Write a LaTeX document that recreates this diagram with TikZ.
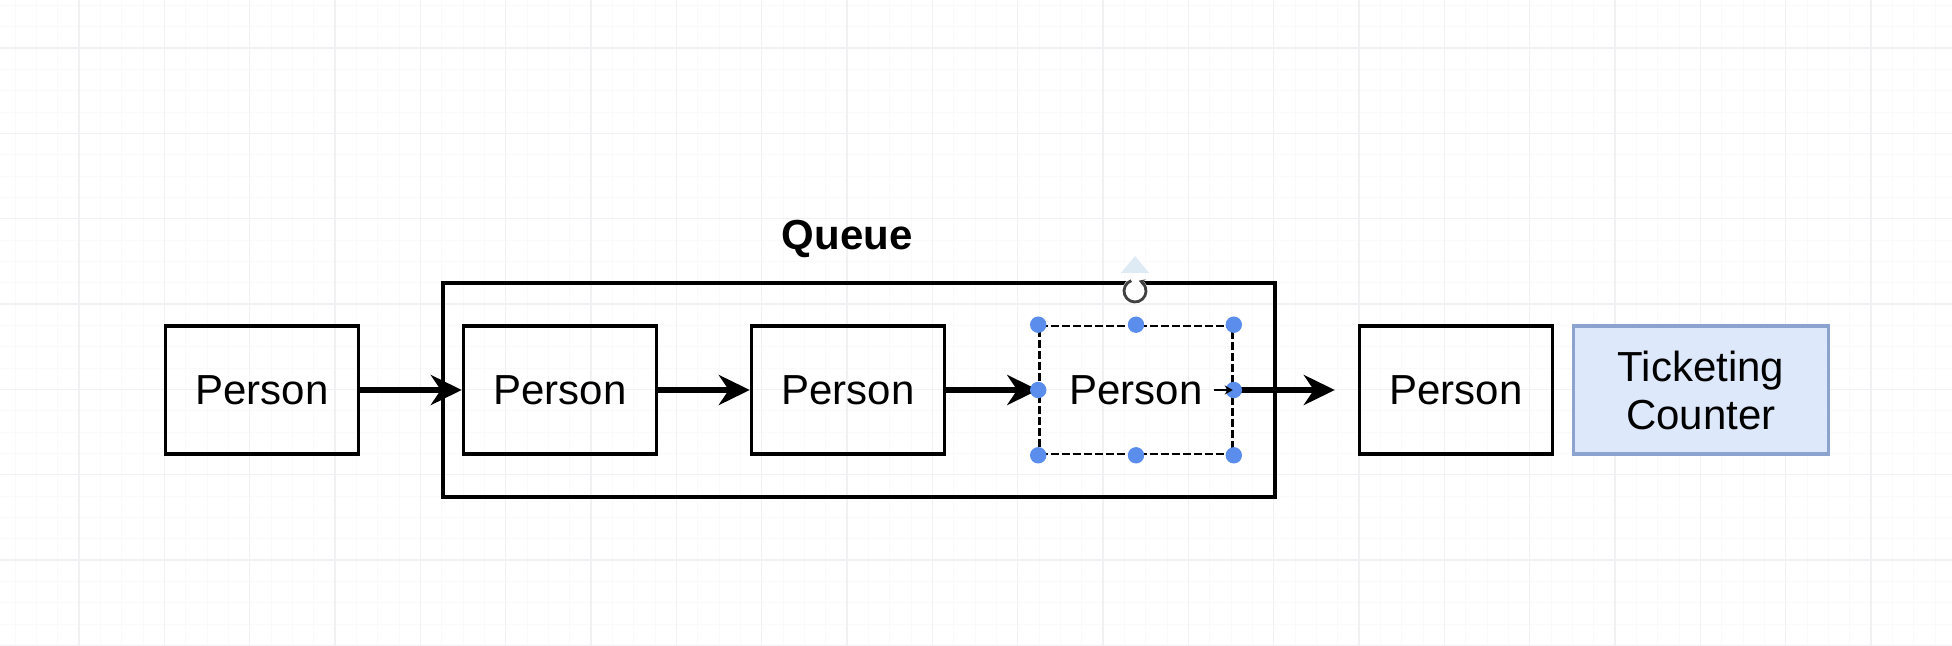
\documentclass[tikz,border=0pt]{standalone}
\usepackage{fontspec}
\setmainfont{Liberation Sans}
\usepackage{tikz}
\usetikzlibrary{arrows.meta, positioning}
\definecolor{gridmajor}{RGB}{241,241,243}
\definecolor{gridminor}{RGB}{250,250,251}
\definecolor{counterfill}{RGB}{222,232,251}
\definecolor{counterline}{RGB}{140,163,207}
\definecolor{handle}{RGB}{90,141,236}
\definecolor{hint}{RGB}{222,234,244}

\begin{document}
\begin{tikzpicture}[
        x=0.5pt, y=-0.5pt,
        node distance=144pt,
        person/.style={rectangle, draw, line width=1.7pt, minimum width=96.5pt, minimum height=64pt, inner sep=0pt, align=center, font=\fontsize{21}{24}\selectfont},
        queuebox/.style={rectangle, draw, line width=1.7pt, minimum width=416pt, minimum height=107pt, inner sep=0pt},
        selected/.style={person, dash pattern=on 4pt off 1.5pt, line width=1.3pt},
        counter/.style={person, minimum width=127.5pt, fill=counterfill, draw=counterline},
        flow/.style={-{Stealth[length=15.5pt, width=15pt, inset=5pt]}, line width=2.6pt}
    ]
        \useasboundingbox (0,0) rectangle (1952,646);
        \fill[white] (0,0) rectangle (1952,646);

        % Background grid
        \begin{scope}
            \clip (0,0) rectangle (1952,646);
            \foreach \i in {0,...,93} {
                \draw[gridminor, line width=0.4pt] ({-6.33+21.333*\i},0) -- ++(0,646);
            }
            \foreach \i in {0,...,32} {
                \draw[gridminor, line width=0.4pt] (0,{-37.33+21.333*\i}) -- ++(1952,0);
            }
            \foreach \i in {0,...,23} {
                \draw[gridmajor, line width=0.6pt] ({-6.33+85.333*\i},0) -- ++(0,646);
            }
            \foreach \i in {0,...,8} {
                \draw[gridmajor, line width=0.6pt] (0,{-37.33+85.333*\i}) -- ++(1952,0);
            }
        \end{scope}

        % Queue container
        \node (queue) [queuebox] at (859,390) {};
        \node (qlabel) [font=\fontsize{21}{24}\selectfont\bfseries] at (847,239) {Queue};

        % People in line
        \node (p1) [person] at (262,390) {Person};
        \node (p2) [person, right of=p1, xshift=5pt] {Person};
        \node (p3) [person, right of=p2] {Person};
        \node (p4) [selected, right of=p3] {Person};
        \node (p5) [person, right of=p4, xshift=16pt] {Person};
        \node (desk) [counter, right of=p5, xshift=-21.5pt] {Ticketing\\Counter};

        % Connect the line
        \draw [flow] (p1) -- (p2);
        \draw [flow] (p2) -- (p3);
        \draw [flow] (p3) -- (p4);
        \coordinate (gap) at ([xshift=-11.5pt]p5.west);
        \draw [flow] (p4) -- (gap);

        % Selection handles
        \foreach \a in {north west, north, north east, east, south east, south, south west, west} {
            \fill[handle] (p4.\a) circle (4.1pt);
        }
        \draw [line width=1.2pt, -{Stealth[length=4pt, width=4.5pt]}] ([xshift=-10pt]p4.east) -- ([xshift=-0.5pt]p4.east);

        % Rotate handle
        \coordinate (rot) at (1135,291);
        \fill[hint] (1121,273) -- (1135,256) -- (1149,273) -- cycle;
        \fill[white] (rot) circle (6.5pt);
        \draw[black!75, line width=1.4pt, -{Stealth[length=3pt, width=3.5pt]}] ([shift={(110:5.5pt)}]rot) arc[start angle=110, end angle=430, radius=5.5pt];
    \end{tikzpicture}
\end{document}
